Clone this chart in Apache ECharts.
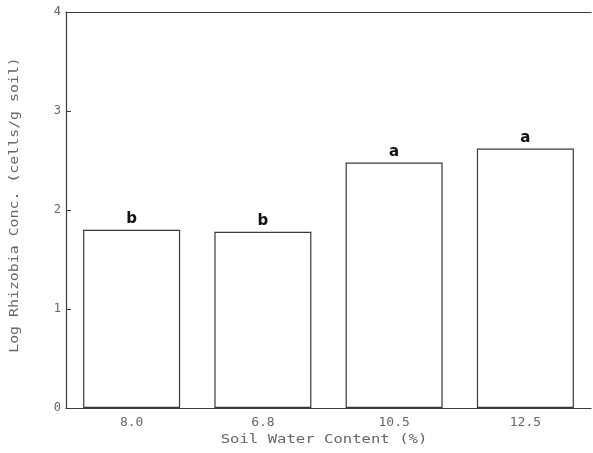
<!DOCTYPE html>
<html>
<head>
<meta charset="utf-8">
<script src="https://cdn.jsdelivr.net/npm/echarts@6/dist/echarts.min.js"></script>
<style>
  html, body { margin: 0; padding: 0; background: #fff; }
  #chart { width: 593px; height: 453px; }
</style>
</head>
<body>
<div id="chart"></div>
<script>
// Soil water content treatments and the log rhizobia count for each
const categories = ['8.0', '6.8', '10.5', '12.5'];
const logConc = [1.80, 1.78, 2.48, 2.62];
const letters = ['b', 'b', 'a', 'a'];
const yTicks = [0, 1, 2, 3, 4];
const xTitle = 'Soil Water Content (%)';
const yTitle = 'Log Rhizobia Conc. (cells/g soil)';

const lineColor = '#3a3a3a';
const textColor = '#666';
const plotFont = 'DejaVu Sans Mono';

const chart = echarts.init(document.getElementById('chart'), null, { renderer: 'canvas' });

chart.setOption({
  animation: false,
  backgroundColor: '#fff',
  grid: { left: 66, right: 2, top: 12, bottom: 45 },
  xAxis: [
    {
      type: 'category',
      data: categories,
      axisLine: { lineStyle: { color: lineColor, width: 1.2 } },
      axisTick: { show: false },
      axisLabel: { color: textColor, fontFamily: plotFont, fontSize: 13, margin: 8 }
    },
    {
      // top frame line
      type: 'category',
      position: 'top',
      data: categories,
      axisLine: { lineStyle: { color: lineColor, width: 1.2 } },
      axisTick: { show: false },
      axisLabel: { show: false }
    }
  ],
  yAxis: {
    type: 'value',
    min: yTicks[0],
    max: yTicks[yTicks.length - 1],
    interval: 1,
    splitLine: { show: false },
    axisLine: { show: true, lineStyle: { color: lineColor, width: 1.2 } },
    axisTick: { show: true, inside: true, length: 5, lineStyle: { color: lineColor } },
    axisLabel: { color: textColor, fontFamily: plotFont, fontSize: 12, margin: 5 }
  },
  // axis titles, stretched horizontally like a pen-plotter lettering
  graphic: [
    {
      type: 'text',
      x: 324, y: 440,
      scaleX: 1.3,
      style: {
        text: xTitle,
        font: '12px "DejaVu Sans Mono"',
        fill: textColor,
        align: 'center',
        verticalAlign: 'middle'
      }
    },
    {
      type: 'text',
      x: 15, y: 205,
      rotation: Math.PI / 2,
      scaleX: 1.24,
      style: {
        text: yTitle,
        font: '12px "DejaVu Sans Mono"',
        fill: textColor,
        align: 'center',
        verticalAlign: 'middle'
      }
    }
  ],
  series: [{
    type: 'bar',
    xAxisIndex: 0,
    data: logConc.map((v, i) => ({
      value: v,
      label: { formatter: letters[i] }
    })),
    barWidth: 97,
    itemStyle: { color: '#fff', borderColor: lineColor, borderWidth: 1.2 },
    label: {
      show: true,
      position: 'top',
      distance: 3,
      color: '#111',
      fontFamily: 'DejaVu Sans',
      fontWeight: 'bold',
      fontSize: 15
    }
  }]
});
</script>
</body>
</html>
